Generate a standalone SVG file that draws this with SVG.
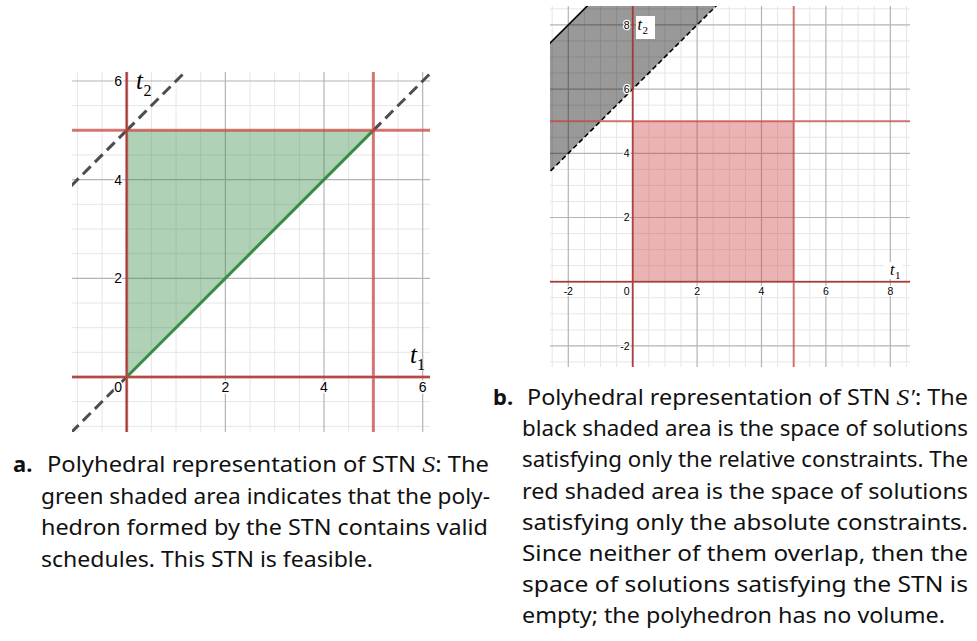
<svg xmlns="http://www.w3.org/2000/svg" width="977" height="641" viewBox="0 0 977 641">
<style>
.minor{stroke:#e6e6e6;stroke-width:1;fill:none}
.major{stroke:#b4b4b4;stroke-width:1.2;fill:none}
.axis{stroke:#333;stroke-width:1.5}
.red{stroke:#c74440;stroke-opacity:0.72;stroke-width:3;fill:none}
.redb{stroke:#c74440;stroke-opacity:0.72;stroke-width:2;fill:none}
.lblA{font-family:"Liberation Sans",Arial,sans-serif;font-size:14px;fill:#000;stroke:#fff;stroke-width:3;paint-order:stroke;stroke-linejoin:round}
.lblB{font-family:"Liberation Sans",Arial,sans-serif;font-size:10.5px;fill:#000;stroke:#fff;stroke-width:2.5;paint-order:stroke;stroke-linejoin:round}
.math{font-family:"Liberation Serif","DejaVu Serif",serif;font-style:italic;fill:#000}
.sub{font-family:"Liberation Serif","DejaVu Serif",serif;fill:#000}
.cap{font-family:"Noto Sans","Open Sans",sans-serif;font-size:22px;fill:#111}
.capb{font-weight:700}
.capm{font-family:"Liberation Serif","DejaVu Serif",serif;font-style:italic;font-size:24px}
</style>
<defs>
<clipPath id="clipA"><rect x="72" y="72" width="358" height="360"/></clipPath>
<clipPath id="clipB"><rect x="550" y="6" width="360" height="361"/></clipPath>
</defs>

<g id="plot-a">
  <g id="grid-a-minor" class="minor">
    <path d="M77.37 72V432M102.03 72V432M151.37 72V432M176.03 72V432M200.7 72V432M250.03 72V432M274.69 72V432M299.36 72V432M348.69 72V432M373.35 72V432M398.02 72V432"/>
    <path d="M72 426.33H430M72 401.67H430M72 352.34H430M72 327.67H430M72 303.01H430M72 253.68H430M72 229.01H430M72 204.35H430M72 155.02H430M72 130.35H430M72 105.69H430"/>
  </g>
  <g id="grid-a-major" class="major">
    <path d="M225.36 72V432M324.02 72V432M422.68 72V432M72 278.34H430M72 179.68H430M72 81.02H430"/>
  </g>
  <g id="axes-a" class="axis">
    <path d="M72 377H430M126.7 72V432"/>
  </g>
  <g id="region-a">
    <polygon points="126.7,377 126.7,130.35 373.35,130.35" fill="#388c46" fill-opacity="0.4"/>
  </g>
  <g id="dashed-a" clip-path="url(#clipA)" stroke="#4d4d4d" stroke-width="3" stroke-dasharray="11 6" fill="none">
    <path d="M126.7 377L70 433.7"/>
    <path d="M373.35 130.35L433 70.7"/>
    <path d="M126.7 130.35L70 187.05"/>
    <path d="M126.7 130.35L186 71.05"/>
  </g>
  <g id="bound-a">
    <path d="M126.7 377L373.35 130.35" stroke="#388c46" stroke-width="3" fill="none"/>
  </g>
  <g id="constraints-a" class="red">
    <path d="M126.7 72V432M373.35 72V432M72 377H430M72 130.35H430"/>
  </g>
  <g id="labels-a" class="lblA">
    <text x="122" y="86" text-anchor="end">6</text>
    <text x="122" y="184.7" text-anchor="end">4</text>
    <text x="122" y="283.3" text-anchor="end">2</text>
    <text x="122" y="392" text-anchor="end">0</text>
    <text x="225.4" y="392" text-anchor="middle">2</text>
    <text x="324" y="392" text-anchor="middle">4</text>
    <text x="422.7" y="392" text-anchor="middle">6</text>
  </g>
  <g id="axis-names-a">
    <text class="math" x="136" y="89" font-size="25">t</text>
    <text class="sub" x="143.5" y="95.5" font-size="16">2</text>
    <text class="math" x="410" y="363" font-size="25">t</text>
    <text class="sub" x="417" y="369.5" font-size="16">1</text>
  </g>
</g>

<g id="plot-b">
  <g id="grid-b-minor" class="minor">
    <path d="M552.2 6V367M584.4 6V367M600.5 6V367M616.6 6V367M648.8 6V367M664.9 6V367M681 6V367M713.2 6V367M729.3 6V367M745.4 6V367M777.6 6V367M793.7 6V367M809.8 6V367M842 6V367M858.1 6V367M874.2 6V367M906.4 6V367"/>
    <path d="M550 361.95H910M550 329.85H910M550 313.8H910M550 297.75H910M550 265.65H910M550 249.6H910M550 233.55H910M550 201.45H910M550 185.4H910M550 169.35H910M550 137.25H910M550 121.2H910M550 105.15H910M550 73.05H910M550 57H910M550 40.95H910M550 8.85H910"/>
  </g>
  <g id="grid-b-major" class="major">
    <path d="M568.3 6V367M697.1 6V367M761.5 6V367M825.9 6V367M890.3 6V367M550 345.9H910M550 217.5H910M550 153.3H910M550 89.1H910M550 24.9H910"/>
  </g>
  <g id="axes-b" class="axis">
    <path d="M550 281.7H910M632.7 6V367" stroke-width="1.2"/>
  </g>
  <g id="relative-b" clip-path="url(#clipB)">
    <polygon points="550,43.13 587.27,6 716.07,6 550,171.53" fill="#000" fill-opacity="0.4"/>
    <path d="M545 48.13L592.27 1" stroke="#000" stroke-width="1.6" fill="none"/>
    <path d="M545 176.53L721.07 1" stroke="#000" stroke-width="1.6" stroke-dasharray="5 3" fill="none"/>
  </g>
  <g id="absolute-b">
    <rect x="632.7" y="121.2" width="161" height="160.5" fill="#c74440" fill-opacity="0.4"/>
  </g>
  <g id="constraints-b" class="redb">
    <path d="M632.7 6V367M793.7 6V367M550 281.7H910M550 121.2H910"/>
  </g>
  <g id="labels-b" class="lblB">
    <text x="629.5" y="28.6" text-anchor="end">8</text>
    <text x="629.5" y="92.8" text-anchor="end">6</text>
    <text x="629.5" y="157" text-anchor="end">4</text>
    <text x="629.5" y="221.2" text-anchor="end">2</text>
    <text x="629.5" y="349.6" text-anchor="end">-2</text>
    <text x="568.3" y="295" text-anchor="middle">-2</text>
    <text x="629.5" y="295" text-anchor="end">0</text>
    <text x="697.1" y="295" text-anchor="middle">2</text>
    <text x="761.5" y="295" text-anchor="middle">4</text>
    <text x="825.9" y="295" text-anchor="middle">6</text>
    <text x="890.3" y="295" text-anchor="middle">8</text>
  </g>
  <g id="axis-names-b">
    <rect x="636" y="16" width="19" height="23" fill="#fff"/>
    <text class="math" x="637.5" y="30" font-size="16">t</text>
    <text class="sub" x="642.5" y="33.5" font-size="11">2</text>
    <rect x="884" y="262" width="19" height="17" fill="#fff"/>
    <text class="math" x="890" y="275" font-size="16">t</text>
    <text class="sub" x="895" y="278.5" font-size="11">1</text>
  </g>
</g>

<g id="caption-a" class="cap">
  <text x="13" y="472" class="capb">a.</text>
  <text x="47" y="472" textLength="442" lengthAdjust="spacingAndGlyphs">Polyhedral representation of STN <tspan class="capm">S</tspan>: The</text>
  <text x="41" y="503.5" textLength="449" lengthAdjust="spacingAndGlyphs">green shaded area indicates that the poly-</text>
  <text x="41" y="535" textLength="447" lengthAdjust="spacingAndGlyphs">hedron formed by the STN contains valid</text>
  <text x="41" y="566.5" textLength="332" lengthAdjust="spacingAndGlyphs">schedules. This STN is feasible.</text>
</g>

<g id="caption-b" class="cap">
  <text x="493" y="405" class="capb">b.</text>
  <text x="527" y="405" textLength="441" lengthAdjust="spacingAndGlyphs">Polyhedral representation of STN <tspan class="capm">S′</tspan>: The</text>
  <text x="522" y="436.2" textLength="446" lengthAdjust="spacingAndGlyphs">black shaded area is the space of solutions</text>
  <text x="522" y="467.4" textLength="446" lengthAdjust="spacingAndGlyphs">satisfying only the relative constraints. The</text>
  <text x="522" y="498.6" textLength="446" lengthAdjust="spacingAndGlyphs">red shaded area is the space of solutions</text>
  <text x="522" y="529.8" textLength="446" lengthAdjust="spacingAndGlyphs">satisfying only the absolute constraints.</text>
  <text x="522" y="561" textLength="446" lengthAdjust="spacingAndGlyphs">Since neither of them overlap, then the</text>
  <text x="522" y="592.2" textLength="446" lengthAdjust="spacingAndGlyphs">space of solutions satisfying the STN is</text>
  <text x="522" y="623.4" textLength="423" lengthAdjust="spacingAndGlyphs">empty; the polyhedron has no volume.</text>
</g>
</svg>
